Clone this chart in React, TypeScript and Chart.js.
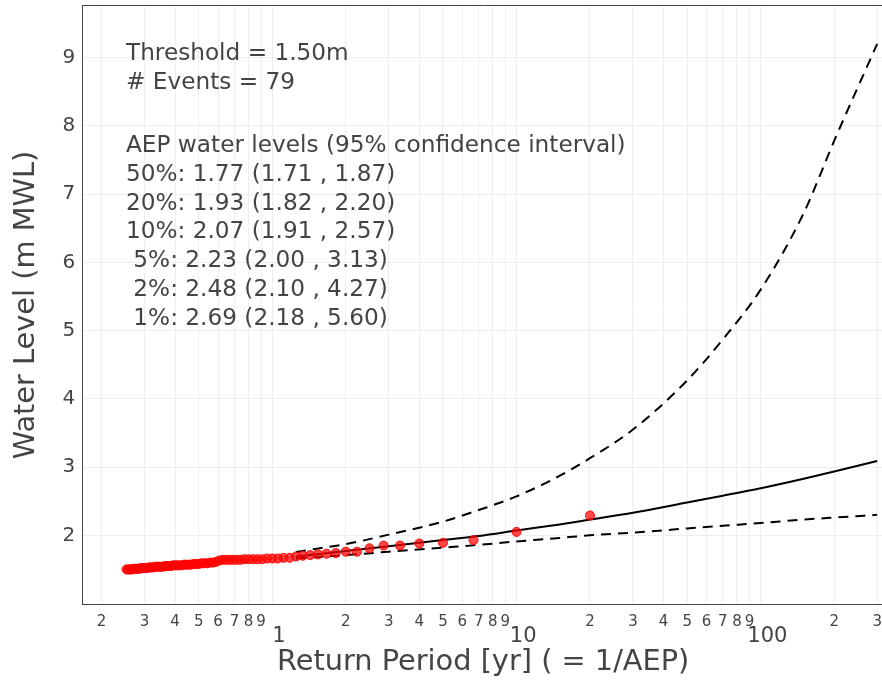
import React, { useEffect, useRef } from "react";
import { Chart, registerables } from "chart.js";

Chart.register(...registerables);

const FONT = '"DejaVu Sans", Verdana, sans-serif';
const TEXT = "#444444";

// Observed peaks over threshold (ranked), return period = plotting position
const returnPeriods = [
  20, 10, 6.667, 5, 4, 3.333, 2.857, 2.5, 2.222, 2,
  1.818, 1.667, 1.538, 1.429, 1.333, 1.25, 1.176, 1.111, 1.053, 1,
  0.952, 0.909, 0.87, 0.833, 0.8, 0.769, 0.741, 0.714, 0.69, 0.667,
  0.645, 0.625, 0.606, 0.588, 0.571, 0.556, 0.541, 0.526, 0.513, 0.5,
  0.488, 0.476, 0.465, 0.455, 0.444, 0.435, 0.426, 0.417, 0.408, 0.4,
  0.392, 0.385, 0.377, 0.37, 0.364, 0.357, 0.351, 0.345, 0.339, 0.333,
  0.328, 0.323, 0.317, 0.313, 0.308, 0.303, 0.299, 0.294, 0.29, 0.286,
  0.282, 0.278, 0.274, 0.27, 0.267, 0.263, 0.26, 0.256, 0.253,
];
const waterLevels = [
  2.29, 2.05, 1.93, 1.89, 1.88, 1.85, 1.85, 1.81, 1.76, 1.76,
  1.74, 1.73, 1.72, 1.71, 1.70, 1.69, 1.67, 1.67, 1.66, 1.66,
  1.66, 1.65, 1.65, 1.65, 1.65, 1.65, 1.64, 1.64, 1.64, 1.64,
  1.64, 1.64, 1.63, 1.61, 1.60, 1.60, 1.59, 1.59, 1.59, 1.58,
  1.58, 1.58, 1.57, 1.57, 1.57, 1.57, 1.56, 1.56, 1.56, 1.56,
  1.56, 1.55, 1.55, 1.55, 1.55, 1.54, 1.54, 1.54, 1.54, 1.54,
  1.53, 1.53, 1.53, 1.53, 1.52, 1.52, 1.52, 1.52, 1.52, 1.51,
  1.51, 1.51, 1.51, 1.51, 1.50, 1.50, 1.50, 1.50, 1.50,
];

// Fitted distribution and 95% confidence bounds
const fitReturnPeriods = [1.25, 1.5, 2, 3, 5, 7, 10, 15, 20, 30, 50, 70, 100, 150, 200, 300];
const fitLevels = [1.69, 1.72, 1.77, 1.84, 1.93, 1.99, 2.07, 2.16, 2.23, 2.33, 2.48, 2.58, 2.69, 2.83, 2.935, 3.09];
const lowerLevels = [1.66, 1.68, 1.71, 1.76, 1.82, 1.86, 1.91, 1.96, 2.0, 2.04, 2.1, 2.14, 2.18, 2.23, 2.26, 2.3];
const upperLevels = [1.755, 1.8, 1.87, 2.01, 2.2, 2.37, 2.57, 2.87, 3.13, 3.55, 4.27, 4.87, 5.6, 6.72, 7.78, 9.2];

const xTickValues = [
  0.2, 0.3, 0.4, 0.5, 0.6, 0.7, 0.8, 0.9, 1,
  2, 3, 4, 5, 6, 7, 8, 9, 10,
  20, 30, 40, 50, 60, 70, 80, 90, 100,
  200, 300,
];
const xTickLabels = [
  "2", "3", "4", "5", "6", "7", "8", "9", "  1",
  "2", "3", "4", "5", "6", "7", "8", "9", "  10",
  "2", "3", "4", "5", "6", "7", "8", "9", "  100",
  "2", "3",
];
const yTickValues = [2, 3, 4, 5, 6, 7, 8, 9];

const statsLines = ["Threshold = 1.50m", "# Events = 79"];
const aepLines = [
  "AEP water levels (95% confidence interval)",
  "50%: 1.77 (1.71 , 1.87)",
  "20%: 1.93 (1.82 , 2.20)",
  "10%: 2.07 (1.91 , 2.57)",
  " 5%: 2.23 (2.00 , 3.13)",
  " 2%: 2.48 (2.10 , 4.27)",
  " 1%: 2.69 (2.18 , 5.60)",
];

const isDecade = (v: number) => Math.abs(Math.log10(v) - Math.round(Math.log10(v))) < 1e-9;

export default function App() {
  const ref = useRef<HTMLCanvasElement | null>(null);

  useEffect(() => {
    const canvas = ref.current;
    if (!canvas) return;

    const annotationPlugin = {
      id: "aepAnnotation",
      afterDraw(chart: any) {
        const ctx = chart.ctx;
        ctx.save();
        ctx.font = `23.2px ${FONT}`;
        ctx.fillStyle = TEXT;
        ctx.textAlign = "left";
        ctx.textBaseline = "alphabetic";
        const x = 126;
        statsLines.forEach((t, i) => ctx.fillText(t, x, 60 + i * 28.8));
        aepLines.forEach((t, i) => ctx.fillText(t, x, 152 + i * 28.8));
        ctx.restore();
      },
    };

    const curve = (levels: number[]) => fitReturnPeriods.map((t, i) => ({ x: t, y: levels[i] }));

    const chart = new Chart(canvas, {
      type: "scatter",
      data: {
        datasets: [
          {
            type: "scatter",
            label: "Observed",
            data: returnPeriods.map((t, i) => ({ x: t, y: waterLevels[i] })),
            pointRadius: 4.5,
            pointBackgroundColor: "rgba(255,0,0,0.72)",
            pointBorderColor: "rgba(255,0,0,0.95)",
            pointBorderWidth: 1,
            order: 0,
          },
          {
            type: "line",
            label: "Fit",
            data: curve(fitLevels),
            borderColor: "#000000",
            borderWidth: 2,
            pointRadius: 0,
            fill: false,
            cubicInterpolationMode: "monotone",
            order: 1,
          },
          {
            type: "line",
            label: "Lower 95%",
            data: curve(lowerLevels),
            borderColor: "#000000",
            borderWidth: 2,
            borderDash: [10, 7],
            pointRadius: 0,
            fill: false,
            cubicInterpolationMode: "monotone",
            order: 2,
          },
          {
            type: "line",
            label: "Upper 95%",
            data: curve(upperLevels),
            borderColor: "#000000",
            borderWidth: 2,
            borderDash: [10, 7],
            pointRadius: 0,
            fill: false,
            cubicInterpolationMode: "monotone",
            order: 3,
          },
        ],
      },
      options: {
        responsive: false,
        animation: false,
        layout: { padding: { top: 5, right: 0, bottom: 0, left: 0 } },
        plugins: {
          legend: { display: false },
          tooltip: { enabled: false },
        },
        scales: {
          x: {
            type: "logarithmic",
            position: "bottom",
            min: 1 / 6,
            max: 320,
            afterBuildTicks: (scale: any) => {
              scale.ticks = xTickValues.map((v) => ({ value: v, major: false }));
            },
            ticks: {
              autoSkip: false,
              maxRotation: 0,
              minRotation: 0,
              padding: 9,
              color: TEXT,
              callback: (_v: any, i: number) => xTickLabels[i],
              font: (c: any) =>
                c.tick && isDecade(c.tick.value)
                  ? { family: FONT, size: 21, lineHeight: 46 / 21 }
                  : { family: FONT, size: 15, lineHeight: 1.2 },
            },
            grid: { color: "#eeeeee", lineWidth: 1, drawTicks: false },
            border: { display: true, color: "#444444", width: 1 },
            title: {
              display: true,
              text: "Return Period [yr] ( = 1/AEP)",
              color: TEXT,
              font: { family: FONT, size: 28.8, lineHeight: 1.2 },
              padding: { top: -23, bottom: 0 },
            },
          },
          x2: {
            type: "linear",
            position: "top",
            min: 0,
            max: 1,
            ticks: { display: false },
            grid: { display: false, drawTicks: false },
            border: { display: true, color: "#444444", width: 1 },
          },
          y: {
            type: "linear",
            position: "left",
            min: 0.987,
            max: 9.763,
            afterBuildTicks: (scale: any) => {
              scale.ticks = yTickValues.map((v) => ({ value: v }));
            },
            ticks: {
              padding: 0,
              color: TEXT,
              font: { family: FONT, size: 20, lineHeight: 0.1 },
              callback: (v: any) => String(v),
            },
            grid: {
              color: "#eeeeee",
              lineWidth: 1,
              drawTicks: true,
              tickLength: 7,
              tickColor: "rgba(0,0,0,0)",
            },
            border: { display: true, color: "#444444", width: 1 },
            title: {
              display: true,
              text: "Water Level (m MWL)",
              color: TEXT,
              font: { family: FONT, size: 28.8, lineHeight: 1.2 },
              padding: { top: 9, bottom: 19 },
            },
          },
        },
      },
      plugins: [annotationPlugin],
    } as any);

    return () => chart.destroy();
  }, []);

  return (
    <div
      style={{
        position: "fixed",
        left: 0,
        top: 0,
        width: 882,
        height: 680,
        overflow: "hidden",
        background: "#ffffff",
      }}
    >
      <canvas ref={ref} width={891} height={680} style={{ display: "block", width: 891, height: 680 }} />
    </div>
  );
}
